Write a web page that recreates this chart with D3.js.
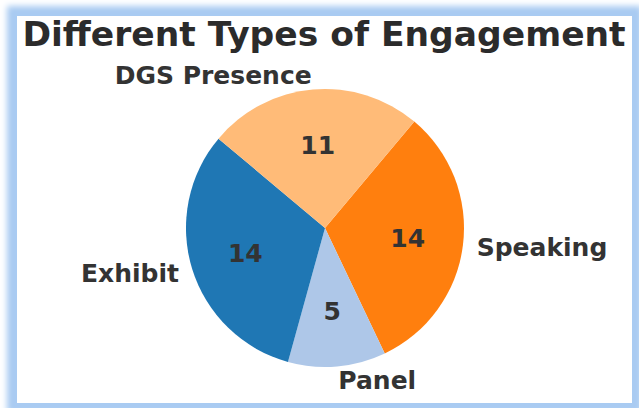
<!DOCTYPE html>
<html>
<head>
<meta charset="utf-8">
<script src="https://cdn.jsdelivr.net/npm/d3@7"></script>
<style>
    html, body { margin: 0; padding: 0; background: #ffffff; overflow: hidden; }
    #wrap { position: relative; width: 639px; height: 408px; }
    #frame {
        position: absolute; left: 17px; top: 16px; width: 615px; height: 387px;
        background: #ffffff;
        box-shadow: 0 0 6px 10px #a9cbf2;
    }
    #chart { position: absolute; left: 0; top: 0; }
</style>
</head>
<body>
<div id="wrap">
    <div id="frame"></div>
    <svg id="chart" width="639" height="408"></svg>
</div>
<script>
'use strict';

// slices listed clockwise, starting at the Speaking wedge
const categories = ['Speaking', 'Panel', 'Exhibit', 'DGS Presence'];
const counts = [14, 5, 14, 11];
const colours = ['#ff7f0e', '#aec7e8', '#1f77b4', '#ffbb78'];
const title = 'Different Types of Engagement';

const width = 639;
const height = 408;
const cx = 325;
const cy = 228;
const radius = 139;

const svg = d3.select('#chart')
    .attr('viewBox', [0, 0, width, height]);

const colour = d3.scaleOrdinal()
    .domain(categories)
    .range(colours);

const data = categories.map((c, i) => ({ name: c, value: counts[i] }));

const start = 40 * Math.PI / 180;
const pie = d3.pie()
    .sort(null)
    .value(d => d.value)
    .startAngle(start)
    .endAngle(start + 2 * Math.PI);

const arcs = pie(data);
const arc = d3.arc().innerRadius(0).outerRadius(radius);

const g = svg.append('g')
    .attr('transform', `translate(${cx}, ${cy})`);

g.selectAll('path')
    .data(arcs)
    .join('path')
        .attr('d', arc)
        .attr('fill', d => colour(d.data.name));

// position along the middle angle at a fraction of the radius
const at = (d, f) => {
    const a = (d.startAngle + d.endAngle) / 2;
    return [Math.sin(a) * radius * f, -Math.cos(a) * radius * f];
};

g.selectAll('text.label')
    .data(arcs)
    .join('text')
        .attr('class', 'label')
        .attr('x', d => at(d, 1.1)[0])
        .attr('y', d => at(d, 1.1)[1])
        .attr('dy', '0.35em')
        .attr('text-anchor', d => at(d, 1.1)[0] < 0 ? 'end' : 'start')
        .attr('font-family', 'DejaVu Sans')
        .attr('font-weight', 'bold')
        .attr('font-size', 25)
        .attr('fill', '#333333')
        .text(d => d.data.name);

g.selectAll('text.value')
    .data(arcs)
    .join('text')
        .attr('class', 'value')
        .attr('x', d => at(d, 0.6)[0])
        .attr('y', d => at(d, 0.6)[1])
        .attr('dy', '0.35em')
        .attr('text-anchor', 'middle')
        .attr('font-family', 'DejaVu Sans')
        .attr('font-weight', 'bold')
        .attr('font-size', 25)
        .attr('fill', '#333333')
        .text(d => d.data.value);

svg.append('text')
    .attr('x', 324)
    .attr('y', 46)
    .attr('text-anchor', 'middle')
    .attr('font-family', 'DejaVu Sans')
    .attr('font-weight', 'bold')
    .attr('font-size', 34.5)
    .attr('fill', '#2b2b2b')
    .text(title);
</script>
</body>
</html>
